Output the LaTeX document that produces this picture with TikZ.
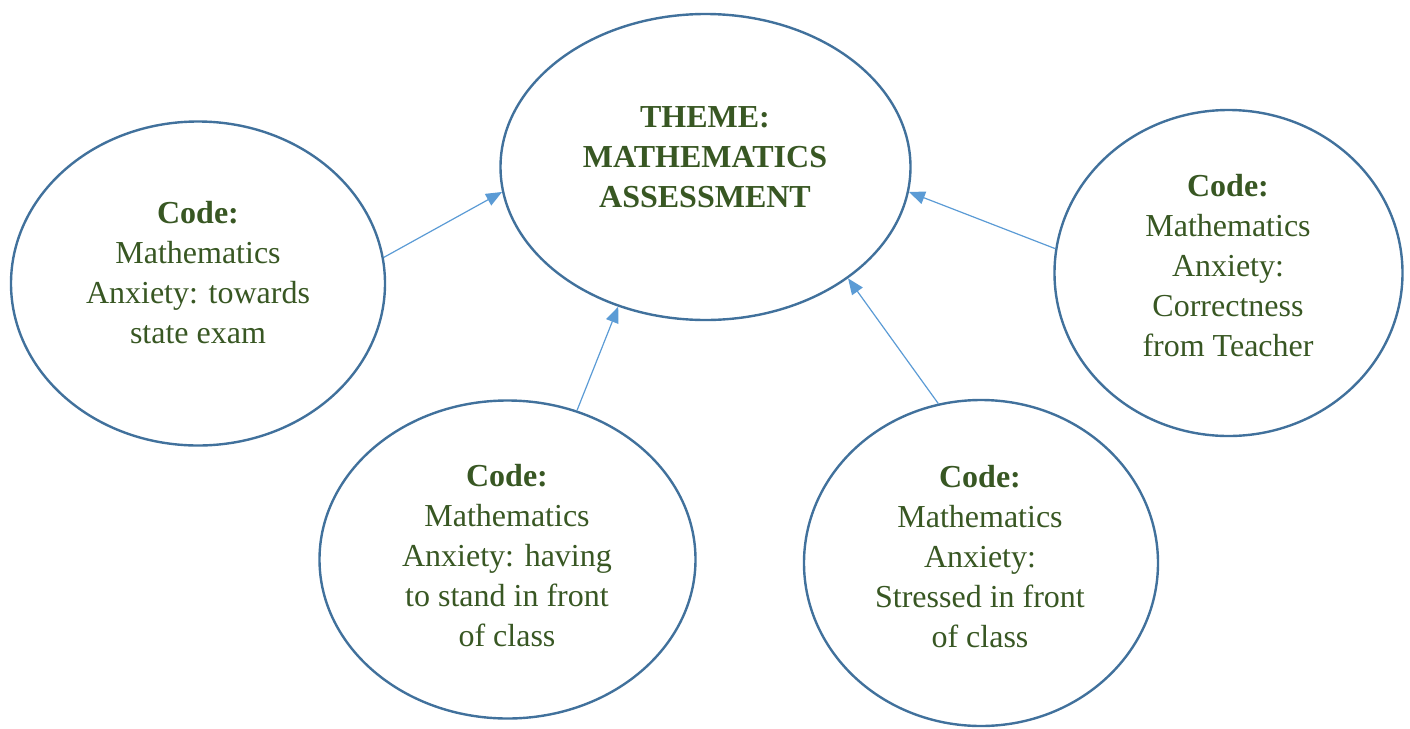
\documentclass[tikz,border=0pt]{standalone}
\usepackage{fontspec}
\setmainfont{Liberation Serif}
\usetikzlibrary{shapes.geometric,arrows.meta}
\definecolor{ringblue}{HTML}{41719C}
\definecolor{arrowblue}{HTML}{5B9BD5}
\definecolor{textgreen}{HTML}{385723}
\tikzset{
  ring/.style={ellipse, draw=ringblue, line width=1.2pt, inner sep=0pt},
  label text/.style={text=textgreen, align=center, inner sep=0pt,
    font=\fontsize{16}{20}\selectfont},
  link/.style={draw=arrowblue, line width=0.6pt,
    -{Triangle[length=8pt,width=6.5pt]}}
}
\begin{document}
\begin{tikzpicture}[x=0.5pt,y=-0.5pt]
\useasboundingbox (0,0) rectangle (1410,729);
% ellipses
\node[ring, minimum width=205pt, minimum height=153pt] (C) at (705.5,167) {};
\node[ring, minimum width=187pt, minimum height=162pt] (L) at (198,283.5) {};
\node[ring, minimum width=188pt, minimum height=159pt] (BL) at (507.5,559.5) {};
\node[ring, minimum width=177pt, minimum height=163pt] (BR) at (981,563) {};
\node[ring, minimum width=174pt, minimum height=163pt] (R) at (1228.5,273) {};
% texts
\node[label text] (Ct) at (705,157) {\textbf{THEME:}\\\textbf{MATHEMATICS}\\\textbf{ASSESSMENT}};
\node[label text] (Lt) at (198,272.5) {\textbf{Code:}\\Mathematics\\Anxiety: towards\\state exam};
\node[label text] (BLt) at (507,556) {\textbf{Code:}\\Mathematics\\Anxiety: having\\to stand in front\\of class};
\node[label text] (BRt) at (980,557) {\textbf{Code:}\\Mathematics\\Anxiety:\\Stressed in front\\of class};
\node[label text] (Rt) at (1228,266) {\textbf{Code:}\\Mathematics\\Anxiety:\\Correctness\\from Teacher};
% connectors
\draw[link] (L.8.4) -- (C.187.2);
\draw[link] (BL.65.6) -- (C.238.6);
\draw[link] (BR.105.9) -- (C.322);
\draw[link] (R.172.3) -- (C.353.3);
\end{tikzpicture}
\end{document}
